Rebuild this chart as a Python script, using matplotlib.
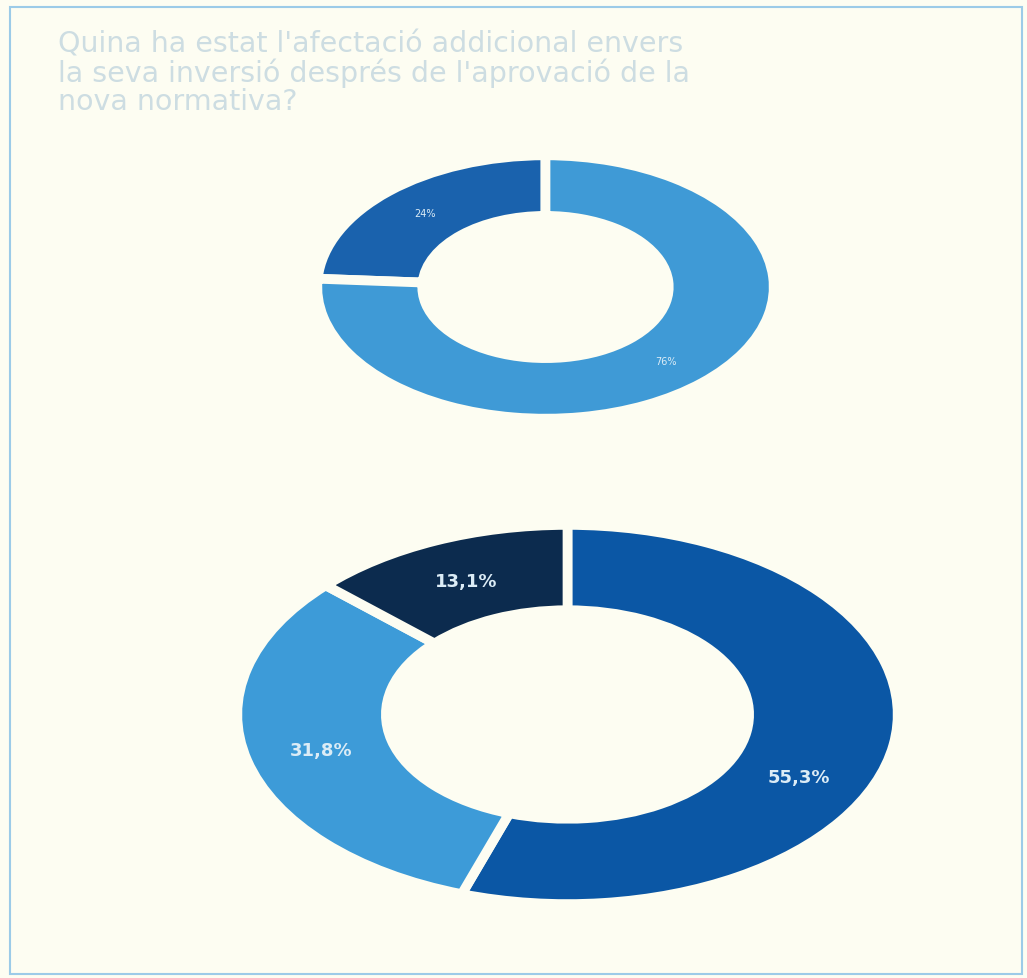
import matplotlib.pyplot as plt
from matplotlib.patches import Rectangle

# dades
title_lines = ["Quina ha estat l'afectació addicional envers",
               "la seva inversió després de l'aprovació de la",
               "nova normativa?"]
top_values = [24, 76]
top_colors = ['#1a62ad', '#3f9ad6']
bottom_values = [55.3, 31.8, 13.1]
bottom_colors = ['#0b57a5', '#3d9bd8', '#0c2b4e']

bg = '#fdfdf2'


def fmt_int(v):
    return '%d%%' % round(v)


def fmt_dec(v):
    return ('%.1f%%' % v).replace('.', ',')


def donut(ax, values, colors, start, clockwise, width, fmt, fsize, bold):
    wedges, texts = ax.pie(
        values, colors=colors, startangle=start, counterclock=not clockwise,
        radius=1, labels=[fmt(v) for v in values], labeldistance=0.77,
        wedgeprops=dict(width=width, edgecolor=bg, linewidth=7),
        textprops=dict(color='#dcecf6', fontsize=fsize,
                       fontweight='bold' if bold else 'normal'))
    for t in texts:
        t.set_ha('center')
        t.set_va('center')
    ax.set_aspect('auto')
    ax.set_xlim(-1.01, 1.01)
    ax.set_ylim(-1.01, 1.01)
    ax.axis('off')
    return texts


fig = plt.figure(figsize=(10.27, 9.79), dpi=100, facecolor=bg)

# marc
fig.patches.append(Rectangle((0.010, 0.004), 0.985, 0.988, transform=fig.transFigure,
                             fill=False, edgecolor='#9ccbe8', linewidth=1.5))

# títol
for i, line in enumerate(title_lines):
    fig.text(0.056, 1 - (45 + i * 28.5) / 979, line, fontsize=20.5, color='#cddde2',
             va='center', ha='left')

# donut superior
ax1 = fig.add_axes([315 / 1027, 1 - 421 / 979, 461 / 1027, 266 / 979])
donut(ax1, top_values, top_colors, 90, False, 0.46, fmt_int, 7, False)

# donut inferior
ax2 = fig.add_axes([234 / 1027, 1 - 907 / 979, 667 / 1027, 383 / 979])
labels = donut(ax2, bottom_values, bottom_colors, 90, True, 0.45, fmt_dec, 13, True)
labels[0].set_position((0.70, -0.33))

fig.savefig('out.png', dpi=100, facecolor=bg)
